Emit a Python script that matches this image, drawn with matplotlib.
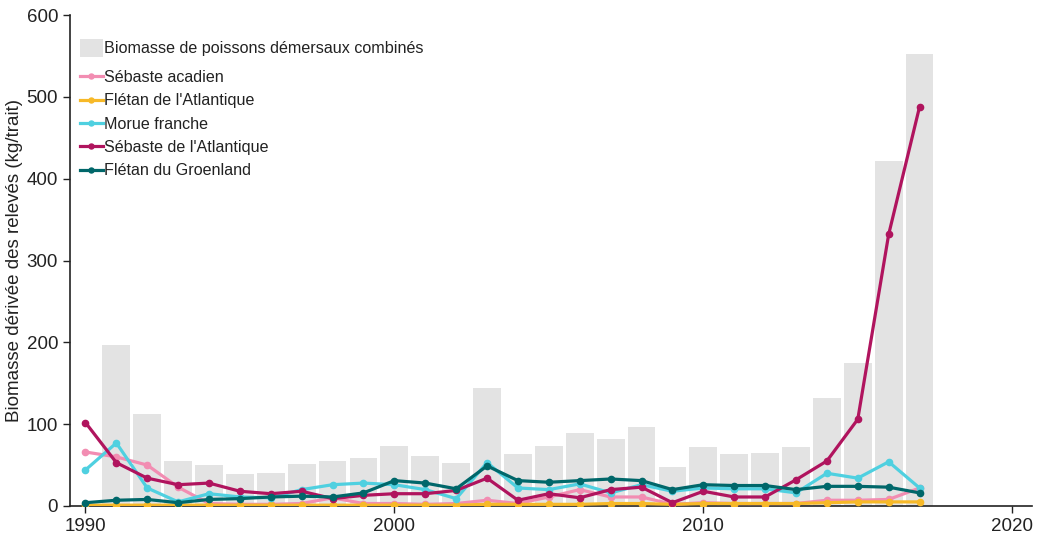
import numpy as np
import matplotlib.pyplot as plt

plt.rcParams['font.family'] = ['Liberation Sans', 'DejaVu Sans']

# Années des relevés
annees = np.arange(1990, 2018)
annees_barres = np.arange(1991, 2018)

# Biomasse combinée (barres)
biomasse_totale = [197, 113, 55, 50, 39, 40, 51, 55, 59, 73, 61, 52, 144,
                   63, 73, 89, 82, 96, 48, 72, 64, 65, 72, 132, 175, 422, 552]

# Séries par espèce (kg/trait)
sebaste_acadien = [66, 60, 50, 23, 3, 2, 2, 3, 10, 3, 3, 2, 3, 7,
                   3, 11, 20, 11, 11, 2, 4, 3, 3, 3, 7, 7, 8, 22]
fletan_atlantique = [1, 1, 1, 1, 1, 1, 1, 1, 1, 1, 1, 1, 1, 2,
                     2, 2, 2, 3, 3, 2, 3, 3, 3, 3, 4, 5, 5, 5]
morue_franche = [44, 77, 22, 5, 15, 11, 10, 20, 26, 28, 26, 20, 9, 53,
                 22, 20, 27, 16, 26, 18, 22, 21, 21, 16, 40, 34, 54, 22]
sebaste_atlantique = [102, 53, 34, 26, 28, 18, 15, 18, 9, 13, 15, 15, 19, 34,
                      7, 15, 10, 20, 23, 4, 18, 11, 11, 32, 55, 106, 332, 488]
fletan_groenland = [4, 7, 8, 4, 8, 9, 11, 12, 11, 16, 31, 28, 21, 49,
                    31, 29, 31, 33, 31, 20, 26, 25, 25, 20, 24, 24, 23, 16]

series = [
    ("Sébaste acadien", sebaste_acadien, "#f28db2"),
    ("Flétan de l'Atlantique", fletan_atlantique, "#f7b928"),
    ("Morue franche", morue_franche, "#4fd0e0"),
    ("Sébaste de l'Atlantique", sebaste_atlantique, "#b0145e"),
    ("Flétan du Groenland", fletan_groenland, "#00676a"),
]

fig = plt.figure(figsize=(10.37, 5.4), dpi=100)
ax = fig.add_axes([0.0675, 0.063, 0.928, 0.909])

barres = ax.bar(annees_barres, biomasse_totale, width=0.9, color="#e3e3e3",
                label="Biomasse de poissons démersaux combinés", zorder=1)

lignes = []
for nom, valeurs, couleur in series:
    ligne, = ax.plot(annees, valeurs, color=couleur, lw=2.3, marker="o",
                     ms=4.5, label=nom, zorder=3)
    lignes.append(ligne)

ax.set_xlim(1989.5, 2020.65)
ax.set_ylim(0, 600)
ax.set_xticks([1990, 2000, 2010, 2020])
ax.set_yticks(np.arange(0, 601, 100))
ax.tick_params(labelsize=13.5, length=5, width=1, color="#222222",
               labelcolor="#222222")
ax.set_ylabel("Biomasse dérivée des relevés (kg/trait)", fontsize=13.5,
              color="#222222", labelpad=3)

for cote in ["top", "right"]:
    ax.spines[cote].set_visible(False)
for cote in ["left", "bottom"]:
    ax.spines[cote].set_color("#222222")
    ax.spines[cote].set_linewidth(1.2)

# Légende en deux blocs : les barres, puis les espèces
options = dict(frameon=False, fontsize=11.6, handlelength=1.4,
               handletextpad=0.08, borderpad=0, borderaxespad=0)
leg_barres = ax.legend(handles=[barres], loc="center left",
                       bbox_to_anchor=(0.0104, 0.933), handleheight=1.25,
                       **options)
for texte in leg_barres.get_texts():
    texte.set_color("#222222")
ax.add_artist(leg_barres)

leg_lignes = ax.legend(handles=lignes, loc="center left",
                       bbox_to_anchor=(0.0104, 0.778), labelspacing=0.52,
                       markerscale=0.8, **options)
for texte in leg_lignes.get_texts():
    texte.set_color("#222222")

fig.savefig("out.png", dpi=100)
